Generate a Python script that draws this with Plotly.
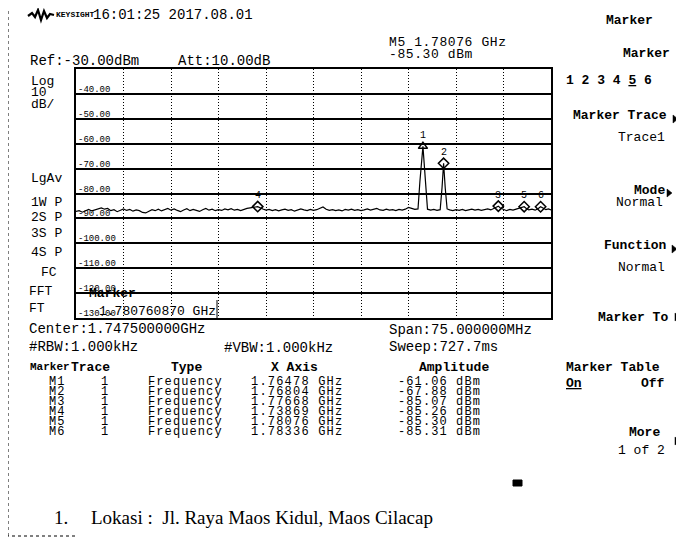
import plotly.graph_objects as go

# ---------------- data ----------------
trace_freq_ghz = [
    1.7100, 1.7105, 1.7110, 1.7115, 1.7120, 1.7125, 1.7130, 1.7135, 1.7140, 1.7145,
    1.7150, 1.7155, 1.7160, 1.7165, 1.7170, 1.7175, 1.7180, 1.7185, 1.7190, 1.7195,
    1.7200, 1.7205, 1.7210, 1.7215, 1.7220, 1.7225, 1.7230, 1.7235, 1.7240, 1.7245,
    1.7250, 1.7255, 1.7260, 1.7265, 1.7270, 1.7275, 1.7280, 1.7285, 1.7290, 1.7295,
    1.7300, 1.7305, 1.7310, 1.7315, 1.7320, 1.7325, 1.7330, 1.7335, 1.7340, 1.7345,
    1.7350, 1.7355, 1.7360, 1.7365, 1.7370, 1.7375, 1.73869, 1.7395, 1.7400, 1.7405,
    1.7410, 1.7415, 1.7420, 1.7425, 1.7430, 1.7435, 1.7440, 1.7445, 1.7450, 1.7455,
    1.7460, 1.7465, 1.7470, 1.7475, 1.7480, 1.7485, 1.7490, 1.7495, 1.7500, 1.7505,
    1.7510, 1.7515, 1.7520, 1.7525, 1.7530, 1.7535, 1.7540, 1.7545, 1.7550, 1.7555,
    1.7560, 1.7565, 1.7570, 1.7575, 1.7580, 1.7585, 1.7590, 1.7595, 1.7600, 1.7605,
    1.7610, 1.7615, 1.7620, 1.7625, 1.7630, 1.7635, 1.7640, 1.7642, 1.7643, 1.76478,
    1.7652, 1.7653, 1.7655, 1.7660, 1.7665, 1.7670, 1.7675, 1.7678, 1.76804, 1.7683,
    1.7686, 1.7690, 1.7695, 1.7700, 1.7705, 1.7710, 1.7715, 1.7720, 1.7725, 1.7730,
    1.7735, 1.7740, 1.7745, 1.7750, 1.7755, 1.7760, 1.77668, 1.7770, 1.7775, 1.7780,
    1.7785, 1.7790, 1.7795, 1.7800, 1.78076, 1.7812, 1.7815, 1.7820, 1.7825, 1.7830,
    1.78336, 1.7838, 1.7842, 1.7846, 1.7850,
]
trace_dbm = [
    -87.2, -86.9, -87.5, -86.8, -86.4, -87.0, -86.6, -86.1, -85.8, -86.3,
    -86.0, -86.9, -86.5, -87.3, -86.7, -86.2, -86.8, -86.4, -87.1, -86.6,
    -86.9, -87.6, -87.8, -87.2, -86.5, -86.9, -86.3, -87.0, -86.4, -86.0,
    -86.7, -86.2, -86.8, -87.3, -86.6, -86.1, -86.9, -86.4, -86.8, -87.2,
    -86.5, -86.0, -86.7, -86.3, -86.9, -86.5, -86.8, -86.2, -86.6, -86.1,
    -86.7, -86.4, -86.9, -86.3, -86.0, -85.8, -85.26, -86.2, -86.7, -86.4,
    -86.9, -86.5, -87.0, -86.6, -86.3, -86.8, -86.5, -87.1, -86.7, -86.2,
    -86.6, -86.9, -86.4, -86.8, -86.5, -86.0, -85.4, -86.3, -86.8, -86.5,
    -86.9, -86.6, -87.0, -86.4, -86.7, -86.3, -86.8, -86.5, -86.9, -86.6,
    -86.2, -86.7, -86.4, -86.0, -86.6, -86.8, -86.3, -86.7, -86.5, -86.9,
    -86.4, -86.7, -86.3, -85.6, -86.0, -86.4, -86.2, -75.4, -75.2, -61.06,
    -75.3, -75.6, -86.3, -86.7, -86.4, -86.8, -86.5, -77.5, -67.88, -77.8,
    -86.2, -86.6, -86.9, -86.5, -86.8, -86.4, -86.9, -86.6, -86.3, -86.7,
    -86.4, -86.8, -86.5, -86.2, -86.6, -86.0, -85.07, -85.8, -86.5, -86.9,
    -86.4, -86.7, -86.3, -86.0, -85.30, -86.2, -86.6, -86.3, -86.7, -86.0,
    -85.31, -85.9, -86.5, -86.2, -86.6,
]

marker_names = ["1", "2", "3", "4", "5", "6"]
marker_freq_ghz = [1.76478, 1.76804, 1.77668, 1.73869, 1.78076, 1.78336]
marker_dbm = [-61.06, -67.88, -85.07, -85.26, -85.30, -85.31]
marker_freq_text = ["1.76478 GHz", "1.76804 GHz", "1.77668 GHz",
                    "1.73869 GHz", "1.78076 GHz", "1.78336 GHz"]
marker_amp_text = ["-61.06 dBm", "-67.88 dBm", "-85.07 dBm",
                   "-85.26 dBm", "-85.30 dBm", "-85.31 dBm"]

y_tick_values = [-40, -50, -60, -70, -80, -90, -100, -110, -120, -130]
y_tick_labels = ["-40.00", "-50.00", "-60.00", "-70.00", "-80.00",
                 "-90.00", "-100.00", "-110.00", "-120.00", "-130.00"]

# ---------------- layout helpers ----------------
# page body has an 8px margin, so the figure is drawn 8px smaller and
# every target pixel position is measured on the full 684x538 window.
OFF = 8
WIN_W, WIN_H = 684, 538
W, H = WIN_W - OFF, WIN_H - OFF
L, R, T, B = 76, 551, 69, 318
MONO = "Liberation Mono"


def px(x):
    return (x - L) / (R - L)


def py(y):
    return (B - y) / (B - T)


fig = go.Figure()

fig.add_trace(go.Scatter(
    x=trace_freq_ghz, y=trace_dbm, mode="lines",
    line=dict(color="black", width=1.2), showlegend=False, hoverinfo="skip"))

symbols = ["triangle-up-open"] + ["diamond-open"] * 5
fig.add_trace(go.Scatter(
    x=marker_freq_ghz, y=marker_dbm, mode="markers",
    marker=dict(symbol=symbols, size=8, color="black",
                line=dict(color="black", width=1.5)),
    showlegend=False, hoverinfo="skip"))

ann = []


def txt(x, y, s, size=14, bold=False, font=MONO, spacing=None):
    if bold:
        s = f"<b>{s}</b>"
    if spacing is not None:
        s = f'<span style="letter-spacing:{spacing}px">{s}</span>'
    ann.append(dict(
        x=px(x), y=py(y), xref="paper", yref="paper", text=s,
        showarrow=False, xanchor="left", yanchor="middle", borderpad=0,
        font=dict(family=font, size=size, color="black")))


# marker numbers above markers
for name, f, a in zip(marker_names, marker_freq_ghz, marker_dbm):
    ann.append(dict(x=f, y=a, xref="x", yref="y", text=name, showarrow=False,
                    yshift=11, font=dict(family=MONO, size=10, color="black")))

# y tick labels inside plot
for v, lab in zip(y_tick_values, y_tick_labels):
    ann.append(dict(x=0, y=v, xref="paper", yref="y", text=lab, showarrow=False,
                    xanchor="left", yanchor="bottom", xshift=1, yshift=-2,
                    borderpad=0, font=dict(family=MONO, size=9, color="black")))

# header
txt(55, 15, "<b>KEYSIGHT</b>", size=8)
txt(92, 15, "16:01:25 2017.08.01", size=14)
txt(29, 61, "Ref:-30.00dBm")
txt(177, 61, "Att:10.00dB")
txt(388, 42, "M5 1.78076 GHz", 13, spacing=0.6)
txt(388, 55, "-85.30 dBm", 13, spacing=0.6)

# left column
txt(30, 81, "Log", 13)
txt(30, 92, "10", 13)
txt(30, 104, "dB/", 13)
txt(30, 178, "LgAv", 13)
txt(30, 202, "1W P", 13)
txt(30, 217, "2S P", 13)
txt(30, 233, "3S P", 13)
txt(30, 252, "4S P", 13)
txt(40, 272, "FC", 13)
txt(28, 291, "FFT", 13)
txt(28, 308, "FT", 13)

# marker overlay in plot
txt(88, 293, "Marker", 13, bold=True)
txt(98, 311, "1.780760870 GHz", 13)

# right soft-key panel
txt(605, 20, "Marker", 13, bold=True)
txt(622, 53, "Marker", 13, bold=True)
txt(565, 80, "1 2 3 4 <u>5</u> 6", 13, bold=True)
txt(572, 115, "Marker Trace", 13, bold=True)
txt(617, 137, "Trace1", 13)
txt(633, 190, "Mode", 13, bold=True)
txt(615, 202, "Normal", 13)
txt(603, 245, "Function", 13, bold=True)
txt(617, 267, "Normal", 13)
txt(597, 317, "Marker To", 13, bold=True)
txt(565, 367, "Marker Table", 13, bold=True)
txt(565, 383, "<u>On</u>", 13, bold=True)
txt(640, 383, "Off", 13, bold=True)
txt(628, 432, "More", 13, bold=True)
txt(617, 450, "1 of 2", 13)

# settings below plot
txt(28, 329, "Center:1.747500000GHz", 14)
txt(28, 347, "#RBW:1.000kHz", 14)
txt(223, 348, "#VBW:1.000kHz", 14)
txt(388, 330, "Span:75.000000MHz", 14)
txt(388, 347, "Sweep:727.7ms", 14)

# marker table
txt(29, 367, "Marker", 11, bold=True)
txt(70, 367, "Trace", 13, bold=True)
txt(170, 367, "Type", 13, bold=True)
txt(270, 367, "X Axis", 13, bold=True)
txt(418, 367, "Amplitude", 13, bold=True)
row_y = [382, 392, 402, 412, 422, 432]
for i, yy in enumerate(row_y):
    txt(48, yy, "M" + marker_names[i], 12, spacing=1.0)
    txt(100, yy, "1", 12)
    txt(147, yy, "Frequency", 12, spacing=1.1)
    txt(250, yy, marker_freq_text[i], 12, spacing=1.2)
    txt(397, yy, marker_amp_text[i], 12, spacing=1.1)

# caption
txt(53, 517, "1.", 19, font="Liberation Serif")
txt(90, 517, "Lokasi :  Jl. Raya Maos Kidul, Maos Cilacap", 19, font="Liberation Serif")

shapes = []


def path(points, close=False):
    s = "M " + " L ".join(f"{px(a):.5f},{py(b):.5f}" for a, b in points)
    return s + (" Z" if close else "")


# keysight logo squiggle
shapes.append(dict(type="path", xref="paper", yref="paper",
                   path=path([(28, 16), (32, 13), (35, 17), (38, 10), (41, 20),
                              (44, 11), (47, 18), (50, 14), (54, 15)]),
                   line=dict(color="black", width=2.2)))
# soft-key arrows
for ax, ay in [(673, 119), (667, 193), (672, 249), (675, 317), (675, 441)]:
    shapes.append(dict(type="path", xref="paper", yref="paper",
                       path=path([(ax, ay - 4), (ax + 5, ay), (ax, ay + 4)], close=True),
                       fillcolor="black", line=dict(color="black", width=0.5)))
# page frame fragments
shapes.append(dict(type="line", xref="paper", yref="paper",
                   x0=px(18), x1=px(684), y0=py(5), y1=py(5),
                   line=dict(color="black", width=1.8)))
shapes.append(dict(type="line", xref="paper", yref="paper",
                   x0=px(8), x1=px(8), y0=py(5), y1=py(537),
                   line=dict(color="black", width=1, dash="dot")))
shapes.append(dict(type="line", xref="paper", yref="paper",
                   x0=px(0), x1=px(77), y0=py(536), y1=py(536),
                   line=dict(color="black", width=1, dash="dot")))
# marker overlay box edge
shapes.append(dict(type="line", xref="paper", yref="paper",
                   x0=px(217), x1=px(217), y0=py(300), y1=py(318),
                   line=dict(color="black", width=1)))
# small icon
shapes.append(dict(type="rect", xref="paper", yref="paper",
                   x0=px(513), x1=px(522), y0=py(480), y1=py(486),
                   fillcolor="black", line=dict(color="black", width=1)))

fig.update_layout(
    width=W, height=H,
    margin=dict(l=L - OFF, r=WIN_W - R, t=T - OFF, b=WIN_H - B, pad=0),
    paper_bgcolor="white", plot_bgcolor="white",
    annotations=ann, shapes=shapes, showlegend=False,
    xaxis=dict(range=[1.710, 1.785], tick0=1.710, dtick=0.0075,
               showgrid=True, gridcolor="black", gridwidth=1, griddash="1px,2px",
               showticklabels=False, ticks="", zeroline=False,
               showline=True, mirror=True, linecolor="black", linewidth=2),
    yaxis=dict(range=[-130, -30], tick0=-130, dtick=10,
               showgrid=True, gridcolor="black", gridwidth=1.5,
               showticklabels=False, ticks="", zeroline=False,
               showline=True, mirror=True, linecolor="black", linewidth=2),
)

fig.write_html("out.html")
